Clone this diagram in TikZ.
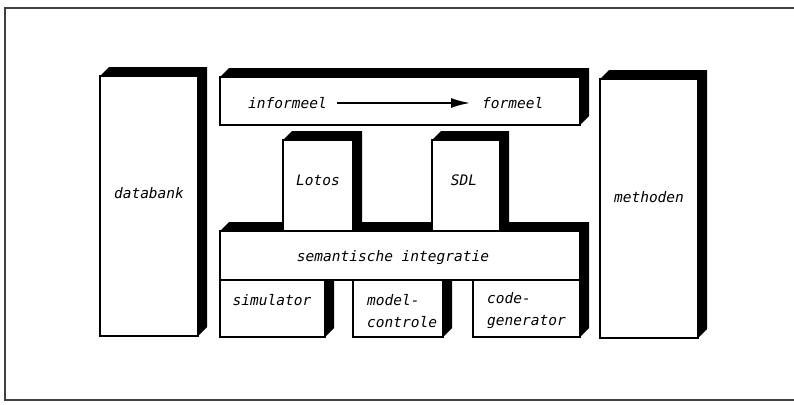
\documentclass[tikz,border=0pt]{standalone}
\usepackage{fontspec}
\setmonofont{DejaVu Sans Mono}
\usepackage{tikz}
\usetikzlibrary{arrows.meta,positioning,calc}

% black depth faces (top and right) of a box node
\newcommand{\diepte}[1]{%
  \fill (#1.north west) -- ++(9,-9) -- ($(#1.north east)+(9,-9)$)
    -- ($(#1.south east)+(9,-9)$) -- (#1.south east) -- (#1.north east) -- cycle;}

\begin{document}
\begin{tikzpicture}[x=1pt,y=-1pt,>=Latex,
  blok/.style={draw,fill=white,line width=1.3pt,rectangle,inner sep=0pt,outer sep=0pt,anchor=north west},
  tekst/.style={font=\fontsize{14.5}{22}\selectfont\ttfamily\itshape,inner sep=2pt},
  pijl/.style={->,line width=1.8pt,>={Latex[length=19pt,width=10pt]}}]
  \useasboundingbox[fill=white] (0,0) rectangle (794,404);
  \draw[black!75,line width=1.3pt] (794,8) -- (5,8) -- (5,400) -- (794,400);

  % side columns
  \node[blok,minimum width=98,minimum height=260] (databank) at (100,76) {};
  \diepte{databank}
  \node[blok,minimum width=98,minimum height=259] (methoden) at (600,79) {};
  \diepte{methoden}

  % top bar
  \node[blok,minimum width=360,minimum height=48] (richting) at (220,77) {};
  \diepte{richting}

  % tools below
  \node[blok,minimum width=105,minimum height=57] (simulator) at (220,280) {};
  \diepte{simulator}
  \node[blok,minimum width=90,minimum height=57] (model) at (353,280) {};
  \diepte{model}
  \node[blok,minimum width=107,minimum height=57] (code) at (473,280) {};
  \diepte{code}

  % integration layer and languages
  \node[blok,minimum width=360,minimum height=49] (semint) at (220,231) {};
  \diepte{semint}
  \node[blok,minimum width=70,minimum height=91] (lotos) at (283,140) {};
  \diepte{lotos}
  \node[blok,minimum width=68,minimum height=91] (sdl) at (432,140) {};
  \diepte{sdl}

  % labels
  \node[tekst] (t-databank) at (149,193) {databank};
  \node[tekst] (t-methoden) at (649,197) {methoden};
  \node[tekst,anchor=west] (informeel) at (246,103) {informeel};
  \node[tekst,anchor=west] (formeel) at (480,103) {formeel};
  \draw[pijl,shorten <=8pt,shorten >=10pt] (informeel) -- (formeel);
  \node[tekst] (t-lotos) at (318,180) {Lotos};
  \node[tekst] (t-sdl) at (464,180) {SDL};
  \node[tekst] (t-semint) at (393,258) {semantische integratie};
  \node[tekst] (t-simulator) at (272,300) {simulator};
  \node[tekst,anchor=west,align=left] (t-model) at (365,311) {model-\\controle};
  \node[tekst,anchor=west,align=left] (t-code) at (485,311) {code-\\generator};
\end{tikzpicture}
\end{document}
